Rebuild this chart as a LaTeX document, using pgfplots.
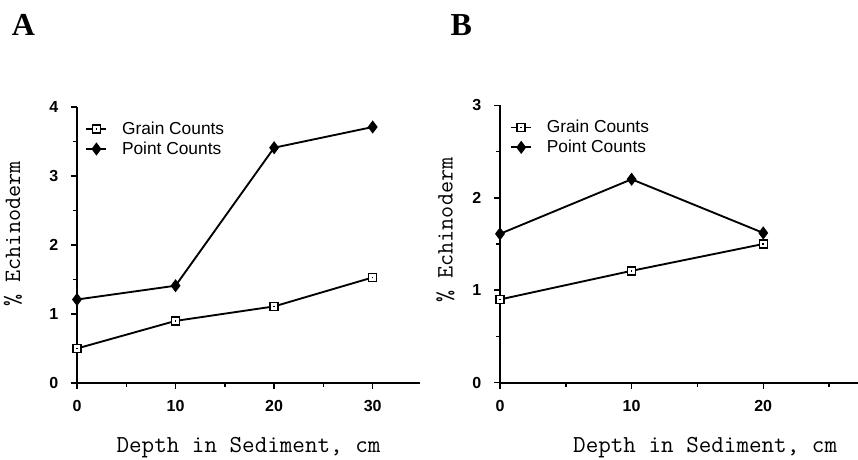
\documentclass[border=0pt]{standalone}
\usepackage{fontspec}
\setmainfont{Liberation Sans}
\newfontfamily\slab{Liberation Serif}
\usepackage{pgfplots}
\pgfplotsset{compat=1.18}

% open square with a small dot in the middle
\pgfdeclareplotmark{dotsquare}{%
  \pgfpathrectangle{\pgfqpoint{-\pgfplotmarksize}{-\pgfplotmarksize}}%
    {\pgfqpoint{2\pgfplotmarksize}{2\pgfplotmarksize}}%
  \pgfusepathqfillstroke
  \pgfscope
  \pgfsetfillcolor{black}%
  \pgfpathrectangle{\pgfqpoint{-0.6pt}{-0.6pt}}{\pgfqpoint{1.2pt}{1.2pt}}%
  \pgfusepathqfill
  \endpgfscope
}

\pgfplotsset{
  panel/.style={
    scale only axis,
    axis lines=left,
    axis line style={-, line width=1.3pt},
    tick style={black, line width=1.1pt},
    tick align=outside,
    major tick length=4.5pt,
    minor tick length=3pt,
    minor x tick num=1,
    minor y tick num=1,
    ymin=0, xmin=0,
    xtick={0,10,20,30},
    ticklabel style={font=\bfseries\fontsize{12}{14}\selectfont},
    xticklabel style={yshift=-5pt},
    yticklabel style={xshift=-6pt},
    /pgf/number format/assume math mode=true,
    xlabel style={font=\ttfamily\fontsize{18.3}{20}\selectfont},
    ylabel style={font=\ttfamily\fontsize{17.6}{20}\selectfont},
    ylabel={\% Echinoderm},
    xlabel={Depth in Sediment, cm},
    legend style={draw=none, fill=none, inner sep=0pt, anchor=north west,
      font=\fontsize{13}{15.75}\selectfont, legend cell align=left},
    legend image code/.code={%
      \draw[mark repeat=2, mark phase=2, #1]
        plot coordinates {(0pt,0pt) (7.5pt,0pt) (15pt,0pt)};
      \path (24pt,0pt);},
  },
  grain/.style={black, line width=1.4pt, mark=dotsquare, mark size=3pt,
    mark options={fill=white, line width=1.1pt, solid}},
  point/.style={black, line width=1.4pt, mark=diamond*, mark size=3.8pt,
    mark options={fill=black, solid}},
}

\begin{document}
\begin{tikzpicture}
\useasboundingbox (0,0) rectangle (643.5pt,345pt);

\node[font=\slab\bfseries\fontsize{24}{26}\selectfont] at (17.5pt,326pt) {A};
\node[font=\slab\bfseries\fontsize{24}{26}\selectfont] at (346pt,326pt) {B};

% panel A
\begin{axis}[panel,
  at={(57.75pt,57.75pt)}, anchor=south west,
  width=257.25pt, height=207pt,
  xmax=34.8, ymax=4,
  ytick={0,1,2,3,4},
  xlabel style={at={(rel axis cs:0.5,0)}, anchor=center, yshift=-48.75pt},
  ylabel style={at={(rel axis cs:0,0.54)}, anchor=center, yshift=48pt},
  legend style={at={(rel axis cs:0.024,0.957)}},
]
\addplot[grain] coordinates {(0,0.50) (10,0.90) (20,1.11) (30,1.53)};
\addlegendentry{Grain Counts}
\addplot[point] coordinates {(0,1.21) (10,1.41) (20,3.41) (30,3.71)};
\addlegendentry{Point Counts}
\end{axis}

% panel B
\begin{axis}[panel,
  at={(375pt,58pt)}, anchor=south west,
  width=268.5pt, height=208pt,
  xmax=27.2, ymax=3,
  ytick={0,1,2,3},
  xlabel style={at={(rel axis cs:0.573,0)}, anchor=center, yshift=-48.75pt},
  ylabel style={at={(rel axis cs:0,0.55)}, anchor=center, yshift=41pt},
  legend style={at={(rel axis cs:0.028,0.957)}},
]
\addplot[grain] coordinates {(0,0.90) (10,1.21) (20,1.50)};
\addlegendentry{Grain Counts}
\addplot[point] coordinates {(0,1.61) (10,2.20) (20,1.62)};
\addlegendentry{Point Counts}
\end{axis}
\end{tikzpicture}
\end{document}
